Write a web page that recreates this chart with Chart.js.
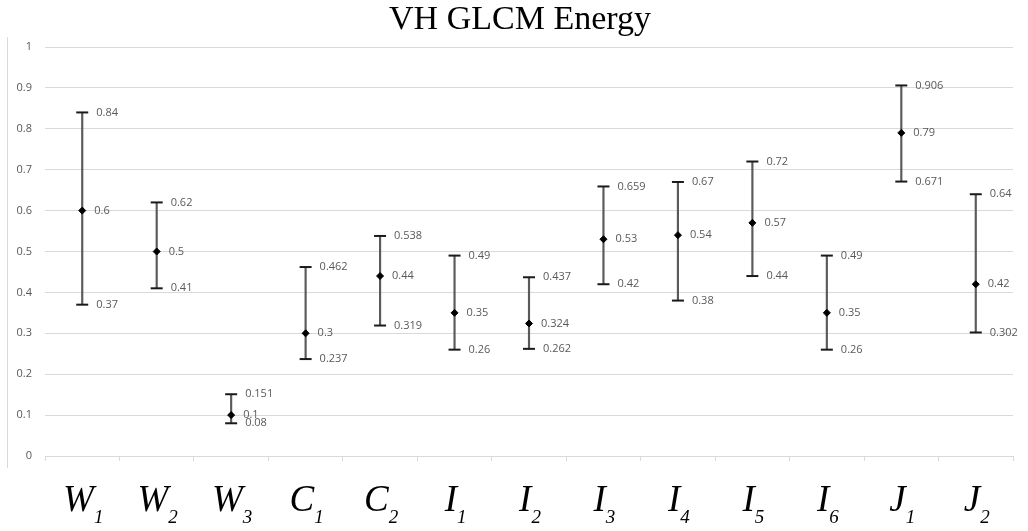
<!DOCTYPE html>
<html>
<head>
<meta charset="utf-8">
<script src="https://cdn.jsdelivr.net/npm/chart.js@4"></script>
<style>
  html, body { margin: 0; padding: 0; background: #fff; }
  #wrap { position: relative; width: 1028px; height: 531px; }
  #edge { position: absolute; left: 7px; top: 37px; width: 0; height: 431px; border-left: 1px solid #d9d9d9; }
</style>
</head>
<body>
<div id="wrap">
  <canvas id="chart" width="1028" height="531"></canvas>
  <div id="edge"></div>
</div>
<script>
// ── Data ───────────────────────────────────────────────────────────────────
const categories = ["W1", "W2", "W3", "C1", "C2", "I1", "I2", "I3", "I4", "I5", "I6", "J1", "J2"];
const highVals = [0.84, 0.62, 0.151, 0.462, 0.538, 0.49, 0.437, 0.659, 0.67, 0.72, 0.49, 0.906, 0.64];
const meanVals = [0.6, 0.5, 0.1, 0.3, 0.44, 0.35, 0.324, 0.53, 0.54, 0.57, 0.35, 0.79, 0.42];
const lowVals  = [0.37, 0.41, 0.08, 0.237, 0.319, 0.26, 0.262, 0.42, 0.38, 0.44, 0.26, 0.671, 0.302];
const yTicks   = [0, 0.1, 0.2, 0.3, 0.4, 0.5, 0.6, 0.7, 0.8, 0.9, 1];

const TITLE = "VH GLCM Energy";
const LABEL_COLOR = "#595959";
const GRID_COLOR = "#d9d9d9";

// ── Plugins ────────────────────────────────────────────────────────────────
const titlePlugin = {
  id: "titleText",
  afterDraw(chart) {
    const ctx = chart.ctx;
    ctx.save();
    ctx.font = "34px 'Liberation Serif', 'Times New Roman', serif";
    ctx.fillStyle = "#000";
    ctx.textAlign = "center";
    ctx.textBaseline = "alphabetic";
    ctx.fillText(TITLE, 520, 29);
    ctx.restore();
  },
};

const valueLabels = {
  id: "valueLabels",
  afterDatasetsDraw(chart) {
    const ctx = chart.ctx;
    ctx.save();
    ctx.font = "11px 'Open Sans', 'Liberation Sans', sans-serif";
    ctx.fillStyle = LABEL_COLOR;
    ctx.textAlign = "left";
    ctx.textBaseline = "middle";
    chart.data.datasets.forEach((ds, di) => {
      if (!ds.labelOffset) return;
      const meta = chart.getDatasetMeta(di);
      meta.data.forEach((pt, i) => {
        ctx.fillText(String(ds.data[i]), pt.x + ds.labelOffset, pt.y);
      });
    });
    ctx.restore();
  },
};

const categoryLabels = {
  id: "categoryLabels",
  afterDraw(chart) {
    const ctx = chart.ctx;
    const xs = chart.scales.x;
    ctx.save();
    ctx.fillStyle = "#000";
    ctx.textBaseline = "alphabetic";
    ctx.textAlign = "left";
    const bigFont = "italic 37px 'Liberation Serif', 'Times New Roman', serif";
    const subFont = "italic 19px 'Liberation Serif', 'Times New Roman', serif";
    categories.forEach((cat, i) => {
      const letter = cat.slice(0, 1);
      const sub = cat.slice(1);
      ctx.font = bigFont;
      const w1 = ctx.measureText(letter).width;
      ctx.font = subFont;
      const w2 = ctx.measureText(sub).width;
      const cx = xs.getPixelForValue(i);
      const x0 = cx - (w1 + w2) / 2 + 1;
      ctx.font = bigFont;
      ctx.fillText(letter, x0, 511);
      ctx.font = subFont;
      ctx.fillText(sub, x0 + w1, 523);
    });
    ctx.restore();
  },
};

// ── Chart ──────────────────────────────────────────────────────────────────
new Chart(document.getElementById("chart"), {
  type: "bar",
  data: {
    labels: categories,
    datasets: [
      {
        label: "range",
        data: categories.map((_, i) => [lowVals[i], highVals[i]]),
        backgroundColor: "#5a5a5a",
        borderWidth: 0,
        barThickness: 1.5,
        order: 3,
      },
      {
        type: "line",
        label: "high",
        data: highVals,
        showLine: false,
        pointStyle: "line",
        pointRadius: 6,
        pointBorderWidth: 2,
        pointBorderColor: "#1a1a1a",
        labelOffset: 14,
        order: 1,
      },
      {
        type: "line",
        label: "low",
        data: lowVals,
        showLine: false,
        pointStyle: "line",
        pointRadius: 6,
        pointBorderWidth: 2,
        pointBorderColor: "#1a1a1a",
        labelOffset: 14,
        order: 1,
      },
      {
        type: "line",
        label: "mean",
        data: meanVals,
        showLine: false,
        pointStyle: "rectRot",
        pointRadius: 3.5,
        pointBorderWidth: 1,
        pointBackgroundColor: "#000",
        pointBorderColor: "#000",
        labelOffset: 12,
        order: 0,
      },
    ],
  },
  options: {
    responsive: false,
    animation: false,
    layout: { padding: { top: 47, right: 15, left: 0, bottom: 0 } },
    plugins: {
      legend: { display: false },
      tooltip: { enabled: false },
      title: { display: false },
    },
    scales: {
      x: {
        offset: true,
        grid: { drawOnChartArea: false, drawTicks: true, tickLength: 5, color: GRID_COLOR, offset: true },
        border: { display: false },
        ticks: { display: false },
        afterFit: (s) => { s.height = 75; },
      },
      y: {
        min: 0,
        max: 1,
        afterBuildTicks: (s) => { s.ticks = yTicks.map((v) => ({ value: v })); },
        grid: { color: GRID_COLOR, drawTicks: false, lineWidth: 1 },
        border: { display: false },
        ticks: {
          color: LABEL_COLOR,
          padding: 13,
          font: { family: "'Open Sans', 'Liberation Sans', sans-serif", size: 11 },
          callback: (v) => String(Math.round(v * 10) / 10),
        },
        afterFit: (s) => { s.width = 45; },
      },
    },
  },
  plugins: [titlePlugin, valueLabels, categoryLabels],
});
</script>
</body>
</html>
